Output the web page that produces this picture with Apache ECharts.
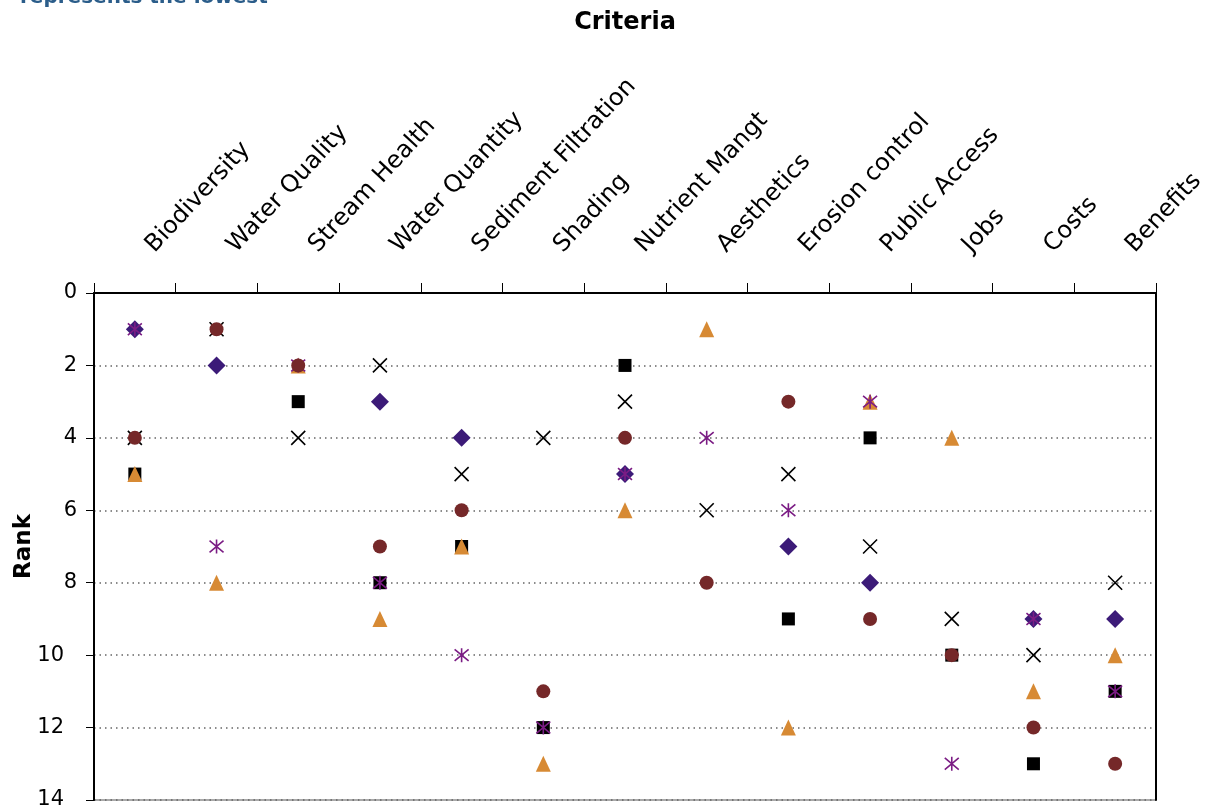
<!DOCTYPE html>
<html>
<head>
<meta charset="utf-8">
<script src="https://cdn.jsdelivr.net/npm/echarts@6/dist/echarts.min.js"></script>
<style>
html,body{margin:0;padding:0;background:#fff;}
#chart{width:1214px;height:812px;}
</style>
</head>
<body>
<div id="chart"></div>
<script>
const categories = ['Biodiversity','Water Quality','Stream Health','Water Quantity','Sediment Filtration','Shading','Nutrient Mangt','Aesthetics','Erosion control','Public Access','Jobs','Costs','Benefits'];
const yTicks = [0,2,4,6,8,10,12,14];

const diamondRanks  = [1, 2, null, 3, 4, null, 5, null, 7, 8, null, 9, 9];
const squareRanks   = [5, null, 3, 8, 7, 12, 2, null, 9, 4, 10, 13, 11];
const triangleRanks = [5, 8, 2, 9, 7, 13, 6, 1, 12, 3, 4, 11, 10];
const crossRanks    = [4, 1, 4, 2, 5, 4, 3, 6, 5, 7, 9, 10, 8];
const starRanks     = [1, 7, 2, 8, 10, 12, 5, 4, 6, 3, 13, 9, 11];
const circleRanks   = [4, 1, 2, 7, 6, 11, 4, 8, 3, 9, 10, 12, 13];

const FONT = 'DejaVu Sans';
const CROSS = 'path://M0,0L10,10M10,0L0,10';
const STAR = 'path://M0,0L10,10M10,0L0,10M5,-1L5,11';

function filled(name, data, symbol, size, color) {
  return { name, type: 'scatter', data, symbol, symbolSize: size,
    itemStyle: { color: color, opacity: 1 }, emphasis: { disabled: true } };
}
function stroked(name, data, symbol, size, color) {
  return { name, type: 'scatter', data, symbol, symbolSize: size,
    itemStyle: { color: 'rgba(0,0,0,0)', borderColor: color, borderWidth: 1.6, opacity: 1 },
    emphasis: { disabled: true } };
}

const chart = echarts.init(document.getElementById('chart'), null, { renderer: 'canvas' });
chart.setOption({
  animation: false,
  backgroundColor: '#fff',
  textStyle: { fontFamily: FONT },
  graphic: [{
    type: 'text', left: 20, top: -12,
    style: { text: 'represents the lowest', fill: '#2b5d8a', font: 'bold 20px "DejaVu Sans"' }
  }],
  grid: { left: 94, right: 58, top: 293, bottom: 12, show: true, borderColor: '#555', borderWidth: 1,
    outerBoundsMode: 'none', containLabel: false },
  xAxis: {
    type: 'category', data: categories, position: 'top', boundaryGap: true,
    name: 'Criteria', nameLocation: 'middle', nameGap: 258, nameMoveOverlap: false,
    nameTextStyle: { fontFamily: FONT, fontWeight: 'bold', fontSize: 24, color: '#000' },
    axisLine: { show: true, lineStyle: { color: '#000', width: 2 } },
    axisTick: { show: true, length: 10, lineStyle: { color: '#000', width: 1 } },
    axisLabel: { rotate: 47, margin: 28, fontSize: 24, color: '#000', fontFamily: FONT, interval: 0,
      padding: [0, 0, 0, 22] },
    splitLine: { show: false }
  },
  yAxis: [{
    type: 'value', inverse: true, min: 0, max: 14, interval: 2,
    name: 'Rank', nameLocation: 'middle', nameGap: 58, nameRotate: 90, nameMoveOverlap: false,
    nameTextStyle: { fontFamily: FONT, fontWeight: 'bold', fontSize: 23, color: '#000' },
    axisLine: { show: true, lineStyle: { color: '#000', width: 2 } },
    axisTick: { show: true, length: 8, lineStyle: { color: '#000', width: 1 } },
    axisLabel: { margin: 17, fontSize: 21, color: '#000', fontFamily: FONT,
      formatter: v => (yTicks.indexOf(v) < 0 ? '' : (v >= 10 ? '{d|' + v + '}' : String(v))),
      rich: { d: { fontSize: 21, fontFamily: FONT, color: '#000', padding: [0, 13, 0, 0] } } },
    splitLine: { show: true, lineStyle: { type: [1.5, 4], color: '#666', width: 1.5 } }
  }, {
    type: 'value', inverse: true, min: 0, max: 14, interval: 2, position: 'right',
    axisLine: { show: true, lineStyle: { color: '#000', width: 2 } },
    axisTick: { show: false }, axisLabel: { show: false }, splitLine: { show: false }
  }],
  series: [
    filled('Series 1', diamondRanks, 'diamond', 18, '#3c1b78'),
    filled('Series 2', squareRanks, 'rect', 13, '#000000'),
    filled('Series 3', triangleRanks, 'triangle', [15, 16], '#d78a34'),
    stroked('Series 4', crossRanks, CROSS, 14, '#000000'),
    stroked('Series 5', starRanks, STAR, 14, '#7b1c84'),
    filled('Series 6', circleRanks, 'circle', 14, '#752829')
  ]
});
</script>
</body>
</html>
